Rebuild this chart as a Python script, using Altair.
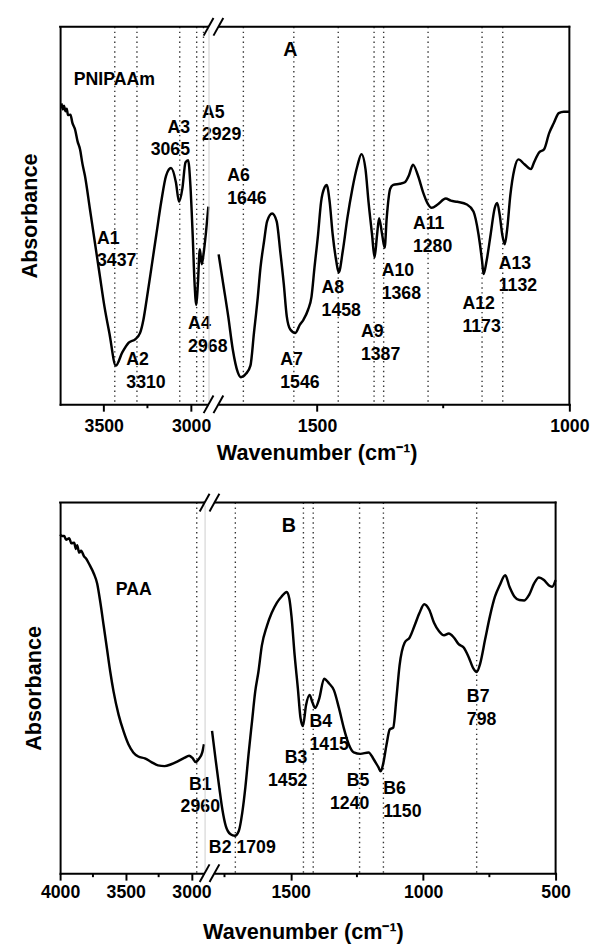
import altair as alt
import pandas as pd

FONT = "Liberation Sans"

# ---------------- Panel A: PNIPAAm ----------------
# high-wavenumber segment (3750-2900 cm-1)
a_hi_wn = [3742, 3735, 3728, 3719, 3712, 3705, 3691, 3680, 3664, 3650,
           3636, 3622, 3608, 3580, 3552, 3524, 3496, 3468, 3431, 3394,
           3357, 3320, 3292, 3273, 3255, 3227, 3199, 3171, 3143, 3115,
           3087, 3069, 3050, 3032, 3017, 3004, 2991, 2980, 2970, 2961,
           2950, 2939, 2929, 2916, 2901]
a_hi_ab = [79.6, 78.0, 79.0, 77.5, 78.2, 76.5, 76.6, 74.5, 72.6, 69.5,
           67.4, 63.5, 60.4, 51.7, 42.9, 34.2, 25.5, 18.5, 9.8, 13.3,
           15.9, 16.8, 18.5, 22.0, 27.2, 35.9, 44.7, 53.4, 60.4, 62.4,
           58.6, 53.4, 56.9, 63.9, 64.5, 57.8, 44.7, 31.6, 25.9, 31.6,
           40.8, 36.8, 39.4, 44.7, 52.1]
# low-wavenumber segment (1715-1000 cm-1)
a_lo_wn = [1695, 1686, 1676, 1667, 1657, 1651, 1641, 1632, 1625, 1618,
           1612, 1605, 1599, 1589, 1580, 1573, 1566, 1560, 1553, 1543,
           1534, 1527, 1518, 1511, 1505, 1498, 1492, 1485, 1481, 1475,
           1469, 1462, 1457, 1449, 1440, 1430, 1420, 1412, 1404, 1398,
           1391, 1386, 1381, 1377, 1371, 1366, 1362, 1355, 1349, 1336,
           1326, 1318, 1310, 1300, 1290, 1281, 1273, 1261, 1245, 1235,
           1222, 1203, 1190, 1180, 1173, 1170, 1164, 1156, 1148, 1143,
           1138, 1133, 1128, 1123, 1117, 1109, 1101, 1089, 1076, 1070,
           1060, 1050, 1040, 1031, 1021, 1011, 1000]
a_lo_ab = [39.4, 31.6, 22.9, 14.1, 8.0, 6.7, 7.6, 9.8, 18.5, 27.2,
           36.0, 42.9, 48.2, 50.3, 48.2, 40.3, 31.6, 22.9, 19.4, 18.5,
           20.7, 22.0, 24.6, 28.1, 36.0, 44.7, 53.4, 57.3, 57.9, 53.4,
           44.7, 37.7, 34.6, 40.3, 49.0, 56.9, 63.0, 66.1, 62.1, 53.4,
           44.7, 38.6, 44.7, 49.0, 44.7, 41.2, 49.0, 56.9, 57.9, 58.2,
           58.6, 60.4, 63.3, 60.4, 56.0, 53.0, 51.8, 52.7, 54.3, 53.7,
           53.4, 52.7, 50.8, 44.7, 37.7, 34.2, 37.7, 44.7, 51.7, 53.1,
           49.9, 44.7, 42.1, 46.4, 55.1, 62.1, 64.7, 63.4, 62.1, 63.9,
           66.5, 67.4, 71.7, 74.3, 77.0, 77.4, 77.4]
a_peaks = [3437, 3310, 3065, 2968, 2929, 1646, 1546, 1458, 1387, 1368, 1280, 1173, 1132]
# label anchors: wavenumber of the aligned edge, absorbance of the first line's top
a_lab_text = ["A1\n3437", "A2\n3310", "A3\n3065", "A4\n2968", "A5\n2929",
              "A6\n1646", "A7\n1546", "A8\n1458", "A9\n1387", "A10\n1368",
              "A11\n1280", "A12\n1173", "A13\n1132", "PNIPAAm"]
a_lab_wn = [3539, 3371, 3006, 3017, 2938, 1678, 1573, 1491, 1413, 1372, 1310, 1212, 1140, 3439]
a_lab_ab = [45.9, 13.6, 75.5, 23.2, 79.5, 62.5, 13.6, 32.8, 21.0, 37.2, 49.8, 28.4, 39.3, 88.2]
a_lab_align = ["left", "left", "right", "left", "left", "left", "left", "left",
               "left", "left", "left", "left", "left", "center"]
a_letter = ["A"]
a_letter_wn = [1553]
a_letter_ab = [96.5]

# ---------------- Panel B: PAA ----------------
b_hi_wn = [4000, 3985, 3968, 3955, 3930, 3915, 3893, 3880, 3870, 3855,
           3840, 3818, 3800, 3780, 3743, 3718, 3693, 3668, 3643, 3618,
           3593, 3555, 3518, 3480, 3443, 3405, 3355, 3305, 3255, 3205,
           3155, 3105, 3055, 3018, 2993, 2968, 2943, 2918, 2905]
b_hi_ab = [91.4, 91.0, 91.0, 90.0, 90.4, 89.0, 89.2, 87.5, 88.5, 86.5,
           87.0, 85.5, 84.8, 83.5, 80.8, 78.2, 72.9, 66.7, 60.5, 54.3,
           49.0, 42.8, 38.4, 34.8, 32.6, 31.5, 31.0, 30.0, 29.1, 28.9,
           29.4, 30.2, 31.1, 31.7, 31.1, 30.0, 30.9, 32.6, 34.8]
b_lo_wn = [1797, 1783, 1770, 1758, 1745, 1727, 1711, 1696, 1683, 1671,
           1659, 1646, 1634, 1622, 1609, 1590, 1572, 1553, 1535, 1515,
           1505, 1497, 1485, 1473, 1463, 1454, 1442, 1429, 1417, 1408,
           1392, 1374, 1355, 1337, 1318, 1300, 1281, 1262, 1237, 1206,
           1188, 1169, 1160, 1151, 1138, 1126, 1113, 1101, 1089, 1070,
           1051, 1033, 1014, 996, 977, 959, 940, 921, 903, 884,
           866, 847, 828, 810, 798, 785, 766, 748, 729, 711,
           690, 674, 655, 637, 618, 600, 581, 563, 544, 526,
           513, 500]
b_lo_ab = [38.4, 30.4, 23.3, 17.2, 12.7, 10.5, 10.1, 11.4, 16.3, 23.3,
           32.2, 41.0, 49.0, 54.3, 61.4, 66.7, 70.2, 72.9, 74.6, 75.9,
           74.0, 69.3, 58.7, 49.9, 41.9, 39.7, 45.4, 48.1, 45.9, 44.6,
           47.2, 52.5, 51.2, 49.4, 44.6, 39.3, 34.8, 32.6, 32.2, 32.6,
           30.9, 28.6, 27.5, 29.5, 34.8, 38.8, 39.3, 47.2, 56.1, 62.2,
           63.6, 66.7, 70.2, 72.6, 71.1, 67.6, 65.3, 64.2, 64.7, 63.6,
           61.8, 60.9, 58.3, 55.2, 54.3, 56.5, 63.1, 69.3, 74.6, 77.7,
           80.4, 77.3, 74.6, 73.7, 73.6, 75.1, 78.2, 79.8, 79.1, 77.7,
           77.3, 79.1]
b_peaks = [2960, 1709, 1452, 1415, 1240, 1150, 798]
b_lab_text = ["B1\n2960", "B2 1709", "B3\n1452", "B4\n1415", "B5\n1240",
              "B6\n1150", "B7\n798", "PAA"]
b_lab_wn = [2933, 1809, 1437, 1429, 1203, 1151, 835, 3440]
b_lab_ab = [26.3, 9.1, 33.4, 43.1, 27.2, 25.0, 49.8, 78.9]
b_lab_align = ["center", "left", "right", "left", "right", "left", "left", "center"]
b_letter = ["B"]
b_letter_wn = [1507]
b_letter_ab = [96.4]

X_TITLE = "Wavenumber (cm\u207b\u00b9)"


def segment(line_wn, line_ab, dom, w, h, ydom, peaks, major, minor,
            lab_df, letter_df, first, xtitle=None, title_x=0, title_pad=7,
            label_pad=5, ytitle_pad=20, bound_rule=None):
    xs = alt.Scale(domain=dom, nice=False, zero=False)
    ys = alt.Scale(domain=ydom, nice=False, zero=False)
    ax_kw = dict(values=major, format="d", labelFlush=False, labelOverlap=False,
                 grid=False, domainWidth=2, domainColor="black", domainCap="square",
                 tickColor="black", tickWidth=2, tickSize=7, labelFontSize=18,
                 labelFontWeight="bold", labelFont=FONT, labelColor="black",
                 labelPadding=label_pad, zindex=0)
    if xtitle:
        ax_kw.update(title=xtitle, titleX=title_x, titleAlign="center",
                     titleFontSize=22, titleFontWeight="bold", titleFont=FONT,
                     titleColor="black", titlePadding=title_pad)
    else:
        ax_kw["title"] = None
    X = alt.X("wn:Q", scale=xs, axis=alt.Axis(**ax_kw))
    if first:
        yax = alt.Axis(title="Absorbance", labels=False, ticks=False, grid=False,
                       domainWidth=2, domainColor="black", domainCap="square",
                       titleFontSize=22, titleFontWeight="bold", titleFont=FONT,
                       titleColor="black", titlePadding=ytitle_pad, zindex=0)
    else:
        yax = None
    Y = alt.Y("ab:Q", scale=ys, axis=yax)
    one = pd.DataFrame({"k": [0]})

    layers = []
    layers.append(
        alt.Chart(pd.DataFrame({"wn": [p for p in peaks if min(dom) <= p <= max(dom)]}))
        .mark_rule(color="#333333", strokeWidth=1.4, strokeDash=[1.4, 3.6])
        .encode(x=X))
    layers.append(
        alt.Chart(pd.DataFrame({"wn": line_wn, "ab": line_ab}))
        .mark_line(color="black", strokeWidth=2.5, interpolate="monotone")
        .encode(x=X, y=Y))
    layers.append(
        alt.Chart(pd.DataFrame({"wn": minor}))
        .mark_rule(color="black", strokeWidth=2)
        .encode(x=X, y=alt.value(h), y2=alt.value(h + 4)))
    layers.append(
        alt.Chart(one).mark_rule(color="black", strokeWidth=2, strokeCap="square")
        .encode(x=alt.value(0), x2=alt.value(w), y=alt.value(0)))
    if bound_rule is not None:
        layers.append(
            alt.Chart(one).mark_rule(color="white", strokeWidth=1)
            .encode(x=alt.value(bound_rule), y=alt.value(h / 2), y2=alt.value(h / 2 + 1)))
    if not first:
        # right border
        layers.append(
            alt.Chart(one).mark_rule(color="black", strokeWidth=2, strokeCap="square")
            .encode(x=alt.value(w), y=alt.value(0), y2=alt.value(h)))
        # axis break "//" on top and bottom
        for yy in (0, h):
            layers.append(
                alt.Chart(one).mark_rule(color="white", strokeWidth=6)
                .encode(x=alt.value(0), x2=alt.value(10), y=alt.value(yy)))
            for c in (0, 10):
                layers.append(
                    alt.Chart(one).mark_rule(color="black", strokeWidth=2)
                    .encode(x=alt.value(c - 5), x2=alt.value(c + 5),
                            y=alt.value(yy + 9), y2=alt.value(yy - 9)))
    for al in ("left", "center", "right"):
        sub = lab_df[lab_df["align"] == al]
        if len(sub):
            layers.append(
                alt.Chart(sub).mark_text(align=al, baseline="top", lineBreak="\n",
                                         lineHeight=23, fontSize=18, fontWeight="bold",
                                         font=FONT, color="black")
                .encode(x=X, y=Y, text="t:N"))
    if letter_df is not None:
        layers.append(
            alt.Chart(letter_df).mark_text(align="center", baseline="top",
                                           fontSize=20, fontWeight="bold",
                                           font=FONT, color="black")
            .encode(x=X, y=Y, text="t:N"))
    return alt.layer(*layers).properties(width=w, height=h)


def split_labels(texts, wns, abs_, aligns, dom):
    df = pd.DataFrame({"t": texts, "wn": wns, "ab": abs_, "align": aligns})
    return df[(df["wn"] <= max(dom)) & (df["wn"] >= min(dom))]


# Panel A
A_DOM_HI = [3750, 2900]
A_DOM_LO = [1715, 1000]
A_H = 384
A_Y = [-0.5, 100]
a_left = segment(a_hi_wn, a_hi_ab, A_DOM_HI, 151, A_H, A_Y, a_peaks, [3500, 3000], [3250],
                 split_labels(a_lab_text, a_lab_wn, a_lab_ab, a_lab_align, A_DOM_HI),
                 None, True, label_pad=7, ytitle_pad=19)
a_right = segment(a_lo_wn, a_lo_ab, A_DOM_LO, 367, A_H, A_Y, a_peaks, [1500, 1000], [1250],
                  split_labels(a_lab_text, a_lab_wn, a_lab_ab, a_lab_align, A_DOM_LO),
                  pd.DataFrame({"t": a_letter, "wn": a_letter_wn, "ab": a_letter_ab}),
                  False, xtitle=X_TITLE, title_x=110, title_pad=7, label_pad=7)
panel_a = alt.hconcat(a_left, a_right, spacing=0, bounds="flush").resolve_scale(
    x="independent", y="independent")

# Panel B
B_DOM_HI = [4000, 2900]
B_DOM_LO = [1825, 500]
B_H = 377
B_Y = [0, 100]
b_left = segment(b_hi_wn, b_hi_ab, B_DOM_HI, 147, B_H, B_Y, b_peaks,
                 [4000, 3500, 3000], [3750, 3250],
                 split_labels(b_lab_text, b_lab_wn, b_lab_ab, b_lab_align, B_DOM_HI),
                 None, True, label_pad=4, ytitle_pad=15, bound_rule=-52)
b_right = segment(b_lo_wn, b_lo_ab, B_DOM_LO, 357, B_H, B_Y, b_peaks,
                  [1500, 1000, 500], [1750, 1250, 750],
                  split_labels(b_lab_text, b_lab_wn, b_lab_ab, b_lab_align, B_DOM_LO),
                  pd.DataFrame({"t": b_letter, "wn": b_letter_wn, "ab": b_letter_ab}),
                  False, xtitle=X_TITLE, title_x=100, title_pad=20, label_pad=4)
panel_b = alt.hconcat(b_left, b_right, spacing=0, bounds="flush").resolve_scale(
    x="independent", y="independent")

chart = (
    alt.concat(panel_a, panel_b, columns=1, spacing=28, align="none")
    .resolve_scale(x="independent", y="independent")
    .properties(padding={"left": 0, "top": 0, "right": 0, "bottom": 0})
    .configure_view(stroke=None)
    .configure(font=FONT, background="white")
)

chart.save("out.html", embed_options={"renderer": "svg", "actions": False})
